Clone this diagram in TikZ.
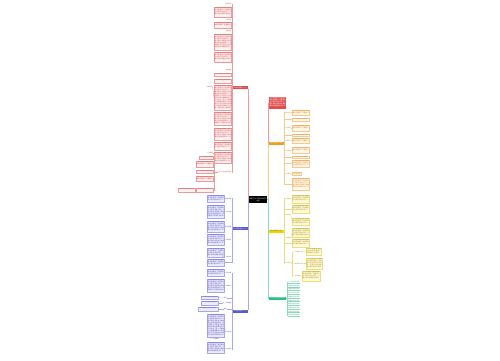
\documentclass[tikz,border=0pt]{standalone}
\usepackage{fontspec}
\usepackage{xstring}
\newfontfamily\cjk{Noto Sans CJK SC}
\XeTeXlinebreaklocale "zh"
\XeTeXlinebreakskip=0pt plus 0.5pt
\definecolor{redmain}{HTML}{E24E4E}
\definecolor{redtext}{HTML}{D23C3C}
\definecolor{redfill}{HTML}{FFF2F2}
\definecolor{redline}{HTML}{EE9A9A}
\definecolor{bluemain}{HTML}{5A5AD2}
\definecolor{bluetext}{HTML}{4646BE}
\definecolor{bluefill}{HTML}{ECECFC}
\definecolor{blueline}{HTML}{A8A8E8}
\definecolor{ormain}{HTML}{F29A1C}
\definecolor{ortext}{HTML}{DC7E10}
\definecolor{orfill}{HTML}{FFF8EC}
\definecolor{orline}{HTML}{F5C98A}
\definecolor{yemain}{HTML}{F2D400}
\definecolor{yetext}{HTML}{A48A00}
\definecolor{yefill}{HTML}{FFFADA}
\definecolor{yeline}{HTML}{EEDC80}
\definecolor{grmain}{HTML}{2DBE85}
\definecolor{grtext}{HTML}{1FA070}
\definecolor{grline}{HTML}{8ADCB8}
\newcommand\leaffont{\cjk\fontsize{1.6}{2.0}\selectfont}
\newcommand\labfont{\cjk\fontsize{1.4}{1.6}\selectfont}
\newcommand\brfont{\cjk\fontsize{1.5}{1.7}\selectfont}
\newcommand\fillertext{工作计划是行政活动中使用范围很广的重要公文也是应用写作的一个重头戏机关团体企事业单位的各级机构对一定时期的工作预先作出安排和打算时都要制定工作计划为了进一步提高工作质量明确工作目标落实工作责任结合本单位实际情况特制定本计划一是加强学习提高自身素质二是明确分工落实岗位职责三是完善制度规范工作流程四是注重总结不断改进工作方法确保各项任务圆满完成在新的一年里我们将继续努力开拓进取为实现全年目标而奋斗}
\tikzset{
  base/.style={inner sep=0pt, outer sep=0pt},
  rleaf/.style={base, fill=redfill, draw=redline, line width=0.25pt},
  bleaf/.style={base, fill=bluefill, draw=blueline, line width=0.25pt},
  oleaf/.style={base, fill=orfill, draw=orline, line width=0.25pt},
  yleaf/.style={base, fill=yefill, draw=yeline, line width=0.25pt},
  rbox/.style={base, fill=redmain},
  branch/.style={base, anchor=north west, font=\brfont, text=white, align=center},
  lab/.style={inner sep=0.15pt, font=\labfont},
  rcon/.style={draw=redline, line width=0.35pt},
  bcon/.style={draw=blueline, line width=0.35pt},
  ocon/.style={draw=orline, line width=0.35pt},
  ycon/.style={draw=yeline, line width=0.35pt},
  gcon/.style={draw=grline, line width=0.35pt},
}
\newcommand\leaf[7]{%
  \pgfmathsetmacro\lw{#4-#2}\pgfmathsetmacro\lh{#5-#3}\pgfmathsetmacro\tw{#4-#2-0.8}%
  \pgfmathtruncatemacro\ncpl{floor((#4-#2-0.8)/1.6)}%
  \pgfmathtruncatemacro\nln{max(1,floor((#5-#3-0.8)/2.0))}%
  \pgfmathtruncatemacro\nch{\ncpl*\nln}%
  \StrLeft{\fillertext}{\nch}[\cuttext]%
  \node[#6, anchor=north west, minimum width=\lw pt, minimum height=\lh pt] (#1) at (#2,#3) {};
  \begin{scope}
    \clip (#1.south west) rectangle (#1.north east);
    \node[anchor=north west, inner sep=0.4pt, text width=\tw pt, align=justify, text=#7, font=\leaffont] at (#1.north west) {\cuttext};
  \end{scope}}
\newcommand\lab[6]{\node[lab, anchor=#2, text=#5] (#1) at (#3,#4) {#6};}
\begin{document}
\begin{tikzpicture}[x=1pt,y=-1pt]
\useasboundingbox (0,0) rectangle (500,360);
\fill[white] (0,0) rectangle (500,360);

% ---------- central node
\node[base, fill=black, text=white, font=\cjk\fontsize{1.7}{2.0}\selectfont, align=center, minimum width=18pt, minimum height=7pt, anchor=north west] (C) at (249,196) {年度个人工作计划范文\\大全};

% ---------- left: red branch
\node[branch, fill=redmain, minimum width=15pt, minimum height=3pt] (R) at (233,86) {工作计划范文（一）};
\lab{r1}{east}{231.6}{4}{redtext}{指导思想}
\leaf{r2}{214}{7}{231.6}{17}{rleaf}{redtext}
\lab{r3}{east}{231.6}{19.5}{redtext}{工作目标}
\leaf{r4}{214}{22}{231.6}{28}{rleaf}{redtext}
\lab{r5}{east}{231.6}{31}{redtext}{主要任务}
\leaf{r6}{214}{34}{231.6}{50}{rleaf}{redtext}
\leaf{r7}{214}{52}{231.6}{62}{rleaf}{redtext}
\lab{r8}{east}{231.6}{70}{redtext}{具体措施}
\leaf{r9}{214}{73}{231.6}{76.5}{rleaf}{redtext}
\leaf{r10}{214}{79}{231.6}{83}{rleaf}{redtext}
\leaf{r11}{214}{85}{231.6}{110}{rleaf}{redtext}
\lab{rx}{east}{212.5}{86.5}{redtext}{工作要求}
\leaf{r12}{214}{112}{231.6}{125}{rleaf}{redtext}
\leaf{r13}{214}{128}{231.6}{140}{rleaf}{redtext}
\leaf{r14}{214}{142}{231.6}{150}{rleaf}{redtext}
\leaf{r15}{214}{152}{231.6}{163}{rleaf}{redtext}
\lab{r16}{east}{231.6}{172}{redtext}{五、工作安排及要求}
\lab{s1}{east}{213.4}{153}{redtext}{工作重点}
\leaf{s2}{199}{156}{213.4}{159}{rleaf}{redtext}
\leaf{s3}{196}{161}{213.4}{167}{rleaf}{redtext}
\leaf{s4}{196}{170}{213.4}{173.5}{rleaf}{redtext}
\leaf{s5}{196}{176}{213.4}{181}{rleaf}{redtext}
\leaf{s6}{196}{188}{213.4}{192}{rleaf}{redtext}
\leaf{s7}{178}{188}{195}{192}{rleaf}{redtext}
\coordinate (st) at (214.3,0);
\foreach \n in {r1,r2,r3,r4,r5,r6,r7,r8,r9,r10,r11,r12,r13,r14,r15,r16}
  \draw[rcon] (R.west) -- ++(-0.6,0) |- (\n.east);
\foreach \n in {s1,s2,s3,s4,s5,s6}
  \draw[rcon] (r16.west) -- (r16.west -| st) |- (\n.east);
\draw[rcon] (s6.west) -- (s7.east);
\draw[rcon] (r11.west) -- (rx.east);

% ---------- left: blue branch 1
\node[branch, fill=bluemain, minimum width=15pt, minimum height=3pt] (B1) at (233,227) {工作计划范文（二）};
\leaf{b1}{207}{195}{224.5}{202}{bleaf}{bluetext}
\lab{bl1}{east}{231.6}{198.5}{bluetext}{工作目标}
\leaf{b2}{207}{205}{224.5}{218}{bleaf}{bluetext}
\lab{bl2}{east}{231.6}{212}{bluetext}{工作内容}
\leaf{b3}{207}{221}{224.5}{232}{bleaf}{bluetext}
\lab{bl3}{east}{231.6}{226.5}{bluetext}{工作措施}
\leaf{b4}{207}{234}{224.5}{245}{bleaf}{bluetext}
\lab{bl4}{east}{231.6}{240}{bluetext}{工作要求}
\leaf{b5}{207}{248}{224.5}{257}{bleaf}{bluetext}
\lab{bl5}{east}{231.6}{256.5}{bluetext}{一、工作总结}
\leaf{b6}{207}{259}{224.5}{266}{bleaf}{bluetext}
\foreach \n in {bl1,bl2,bl3,bl4,bl5,b6}
  \draw[bcon] (B1.west) -- ++(-0.6,0) |- (\n.east);
\foreach \n in {1,2,3,4,5}
  \draw[bcon] (bl\n.west) -- (b\n.east);

% ---------- left: blue branch 2
\node[branch, fill=bluemain, minimum width=15pt, minimum height=2.5pt] (B2) at (233,310) {工作计划范文（三）};
\leaf{c1}{207}{269}{224.5}{276}{bleaf}{bluetext}
\lab{cl1}{east}{231.6}{273}{bluetext}{工作思路}
\leaf{c2}{207}{279}{224.5}{292}{bleaf}{bluetext}
\lab{cl2}{east}{231.6}{286}{bluetext}{工作重点}
\leaf{c3}{201}{296}{218}{299.5}{bleaf}{bluetext}
\lab{cl3}{east}{227}{297.8}{bluetext}{目标}
\leaf{c4}{201}{301}{218}{305}{bleaf}{bluetext}
\lab{cl4}{east}{231.6}{303}{bluetext}{二、具体措施}
\leaf{c5}{198}{307}{218}{311}{bleaf}{bluetext}
\lab{cl5}{east}{227}{309}{bluetext}{要求}
\leaf{c6}{207}{314}{224.5}{337}{bleaf}{bluetext}
\lab{cl6}{east}{231.6}{332}{bluetext}{工作安排}
\lab{c7}{north west}{210}{338}{bluetext}{三、工作保障}
\leaf{c8}{207}{342}{224.5}{353}{bleaf}{bluetext}
\lab{cl8}{east}{231.6}{349}{bluetext}{工作总结}
\foreach \n in {cl1,cl2,cl3,cl4,cl5,cl6,cl8}
  \draw[bcon] (B2.west) -- ++(-0.6,0) |- (\n.east);
\foreach \n in {1,2,3,4,5,6,8}
  \draw[bcon] (cl\n.west) -- (c\n.east);

% ---------- right: red box
\leaf{RR}{269}{97}{286}{109}{rbox}{white}

% ---------- right: orange branch
\node[branch, fill=ormain, minimum width=14.5pt, minimum height=2.5pt] (O) at (269,142) {工作计划范文（四）};
\lab{ol1}{west}{284.8}{112.5}{ortext}{指导思想}
\leaf{o1}{292}{110}{309.5}{115}{oleaf}{ortext}
\leaf{o2}{292}{118}{309.5}{121}{oleaf}{ortext}
\lab{ol3}{west}{284.8}{128}{ortext}{工作目标}
\leaf{o3}{292}{125}{309.5}{131}{oleaf}{ortext}
\leaf{o4}{292}{134}{309.5}{136.5}{oleaf}{ortext}
\lab{ol5}{west}{284.8}{141}{ortext}{主要任务}
\leaf{o5}{292}{138}{309.5}{143.5}{oleaf}{ortext}
\lab{ol6}{west}{284.8}{151}{ortext}{工作措施}
\leaf{o6}{292}{147}{309.5}{153}{oleaf}{ortext}
\leaf{o7}{292}{156}{309.5}{158.5}{oleaf}{ortext}
\leaf{o8}{292}{160}{309.5}{167}{oleaf}{ortext}
\lab{ol9}{west}{284.8}{174}{ortext}{工作要求}
\leaf{o9}{292}{172.5}{301}{175.5}{oleaf}{ortext}
\leaf{o10}{292}{178}{309.5}{190}{oleaf}{ortext}
\foreach \n in {ol1,o2,ol3,o4,ol5,ol6,o7,o8,ol9,o10}
  \draw[ocon] (O.east) -- ++(0.7,0) |- (\n.west);
\foreach \n in {1,3,5,6,9}
  \draw[ocon] (ol\n.east) -- (o\n.west);

% ---------- right: yellow branch
\node[branch, fill=yemain, text=yetext!70!black, minimum width=14.5pt, minimum height=2.5pt] (Y) at (269,230) {工作计划范文（五）};
\lab{yl1}{west}{284.8}{198.5}{yetext}{工作目标}
\leaf{y1}{292}{195}{309.5}{203}{yleaf}{yetext}
\leaf{y2}{292}{205}{309.5}{213}{yleaf}{yetext}
\lab{yl2}{west}{284.8}{215}{yetext}{工作内容}
\leaf{y2b}{292}{218}{309.5}{225}{yleaf}{yetext}
\lab{yl3}{west}{284.8}{238}{yetext}{工作措施}
\leaf{y3}{292}{228}{309.5}{237}{yleaf}{yetext}
\leaf{y3b}{292}{239}{309.5}{247}{yleaf}{yetext}
\lab{yl4}{west}{284.8}{263}{yetext}{工作安排}
\lab{ya}{west}{292}{252}{yetext}{一、加强自身学习}
\leaf{yaa}{306}{248}{321}{255}{yleaf}{yetext}
\lab{yb}{west}{292}{263.5}{yetext}{二、做好本职工作}
\leaf{ybb}{306}{258}{322}{269}{yleaf}{yetext}
\lab{yc}{west}{292}{276}{yetext}{三、注重总结}
\leaf{ycc}{302}{271}{320}{281}{yleaf}{yetext}
\foreach \n in {yl1,y2,yl2,yl3,y3b,yl4}
  \draw[ycon] (Y.east) -- ++(0.7,0) |- (\n.west);
\draw[ycon] (yl1.east) -- (y1.west);
\draw[ycon] (yl2.east) -- (y2b.west);
\draw[ycon] (yl3.east) -- (y3.west);
\foreach \n in {ya,yb,yc}
  \draw[ycon] (yl4.east) -- ++(0.6,0) |- (\n.west);
\draw[ycon] (ya.east) -- (yaa.west);
\draw[ycon] (yb.east) -- (ybb.west);
\draw[ycon] (yc.east) -- (ycc.west);

% ---------- right: green branch
\node[branch, fill=grmain, minimum width=17pt, minimum height=2.5pt] (G) at (269,297) {工作计划范文相关推荐};
\foreach \i/\t in {1/个人工作计划范文,2/年度工作计划范文,3/月度工作计划范文,4/部门工作计划范文,5/学期工作计划范文,6/班级工作计划范文,7/教学工作计划范文,8/销售工作计划范文,9/财务工作计划范文,10/安全工作计划范文} {
  \node[lab, anchor=west, text=grtext] (g\i) at (288, {282+(\i-1)*3.7}) {\t};
  \draw[gcon] (G.east) -- ++(0.7,0) |- (g\i.west);
  \draw[gcon] (g\i.south west) -- (g\i.south east);
}

% ---------- central connectors
\draw[rcon] (C.west) -| (R.south east);
\draw[bcon] (C.west) -| (B1.south east);
\draw[bcon] (C.west) -| (B2.north east);
\draw[rcon] (C.east) -- ++(1,0) |- (RR.west);
\draw[ocon] (C.east) -- ++(1,0) |- (O.west);
\draw[ycon] (C.east) -- ++(1,0) |- (Y.west);
\draw[gcon] (C.east) -- ++(1,0) |- (G.west);
\end{tikzpicture}
\end{document}
